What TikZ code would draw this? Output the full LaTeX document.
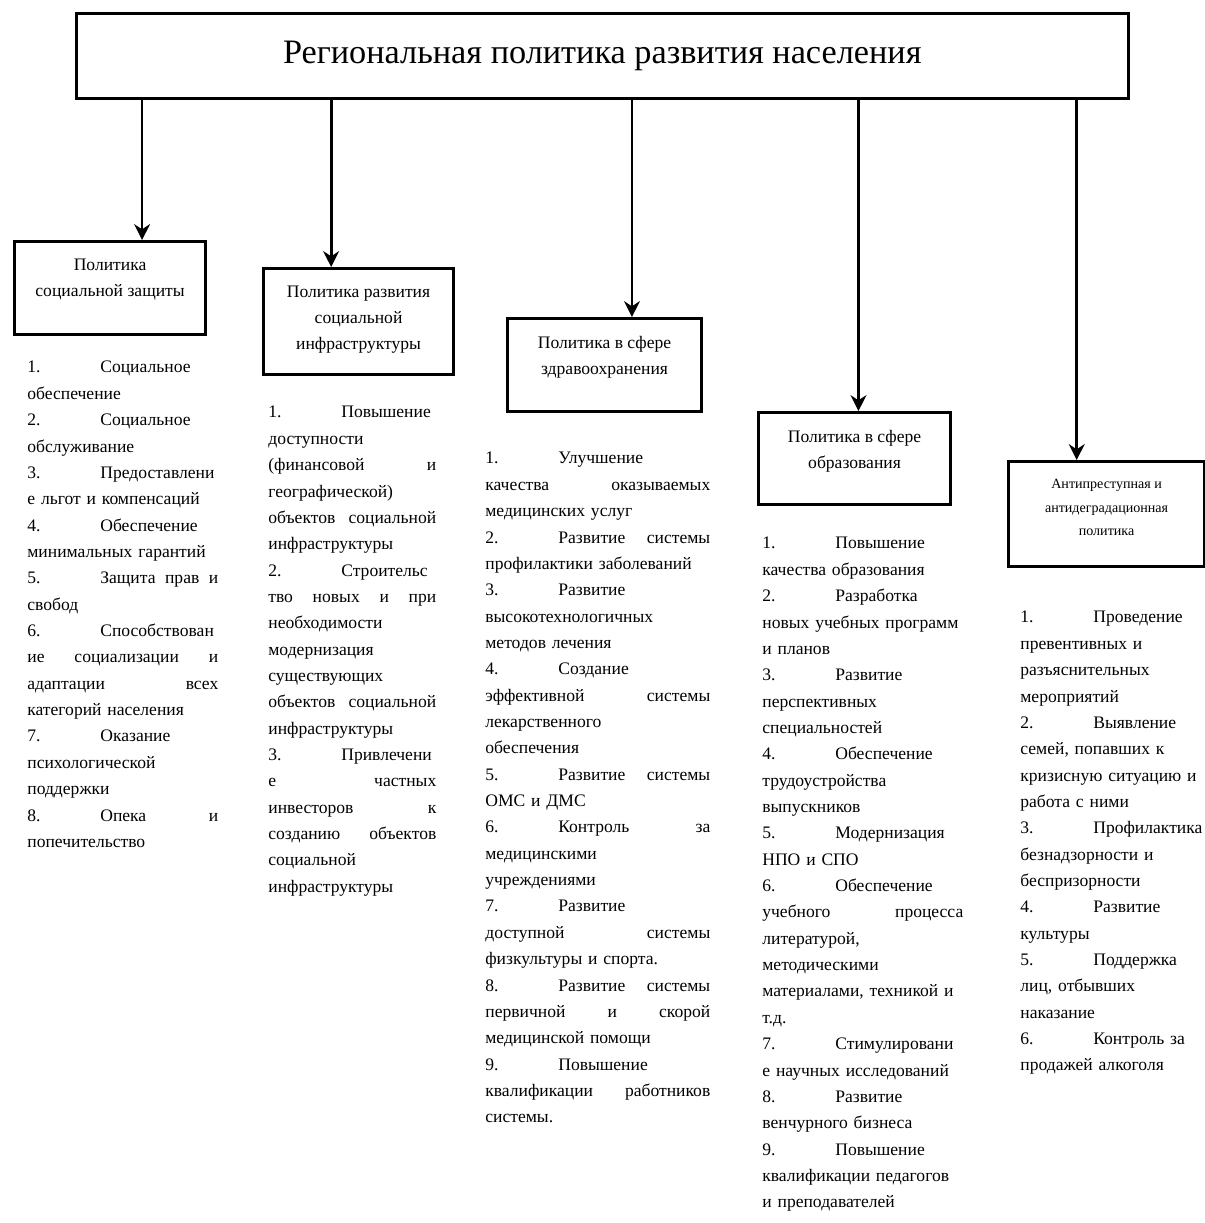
\documentclass[tikz,border=0pt]{standalone}
\usepackage{fontspec}
\setmainfont{Liberation Serif}
\usetikzlibrary{arrows.meta,calc}

\tikzset{
    polbox/.style={draw, line width=1.8pt, inner sep=0pt, anchor=north west,
        font=\fontsize{10}{14.7}\selectfont},
    plist/.style={inner sep=0pt, anchor=north west, align=left,
        font=\fontsize{10}{15}\selectfont},
    down/.style={-{Stealth[length=9pt,width=9pt]}, line width=1.6pt},
}
\newcommand\nm[1]{\makebox[1.46cm][l]{#1}}
% justified line: restore stretchable word spaces
\newcommand\jl[1]{{\spaceskip=0pt\xspaceskip=0pt\makebox[\linewidth][s]{#1}}}
\newcommand\boxtxt[3]{\parbox[c][#2][t]{#1}{\centering\vspace*{10pt}#3}}

\begin{document}
\begin{tikzpicture}[x=0.02cm, y=-0.02cm]
\useasboundingbox (0,0) rectangle (1204,1223);

\node[draw, line width=1.6pt, anchor=north west, minimum width=21.04cm, minimum height=1.7cm,
    font=\fontsize{19.5}{22}\selectfont] (title) at (75,12) {Региональная политика развития населения};

% boxes
\node[polbox] (soc) at (13,240) {\boxtxt{3.82cm}{1.86cm}{Политика\\ социальной защиты}};
\node[polbox] (infra) at (262,267) {\boxtxt{3.8cm}{2.12cm}{Политика развития\\ социальной\\ инфраструктуры}};
\node[polbox] (health) at (506,317) {\boxtxt{3.88cm}{1.86cm}{Политика в сфере\\ здравоохранения}};
\node[polbox] (edu) at (757,411) {\boxtxt{3.84cm}{1.84cm}{Политика в сфере\\ образования}};
\node[polbox, font=\fontsize{8}{13.5}\selectfont] (prev) at (1007,460)
    {\boxtxt{3.92cm}{2.1cm}{Антипреступная и\\ антидеградационная\\ политика}};

\foreach \b/\f in {soc/0.665, infra/0.358, health/0.639, edu/0.52, prev/0.35}{
    \coordinate (\b-in) at ($(\b.north west)!\f!(\b.north east)$);
    \draw[down] (title.south -| \b-in) -- (\b-in);
}

% lists
\node[plist, text width=3.82cm] (socL) at (27,361) {
\nm{1.}Социальное\\
обеспечение\\
\nm{2.}Социальное\\
обслуживание\\
\nm{3.}Предоставлени\\
е льгот и компенсаций\\
\nm{4.}Обеспечение\\
минимальных гарантий\\
\jl{\nm{5.}Защита прав и}\\
свобод\\
\nm{6.}Способствован\\
\jl{ие социализации и}\\
\jl{адаптации всех}\\
категорий населения\\
\nm{7.}Оказание\\
психологической\\
поддержки\\
\jl{\nm{8.}Опека и}\\
попечительство};

\node[plist, text width=3.36cm] (infraL) at (268,406) {
\nm{1.}Повышение\\
доступности\\
\jl{(финансовой и}\\
географической)\\
\jl{объектов социальной}\\
инфраструктуры\\
\nm{2.}Строительс\\
\jl{тво новых и при}\\
необходимости\\
модернизация\\
существующих\\
\jl{объектов социальной}\\
инфраструктуры\\
\nm{3.}Привлечени\\
\jl{е частных}\\
\jl{инвесторов к}\\
\jl{созданию объектов}\\
социальной\\
инфраструктуры};

\node[plist, text width=4.5cm] (healthL) at (485,452) {
\nm{1.}Улучшение\\
\jl{качества оказываемых}\\
медицинских услуг\\
\jl{\nm{2.}Развитие системы}\\
профилактики заболеваний\\
\nm{3.}Развитие\\
высокотехнологичных\\
методов лечения\\
\nm{4.}Создание\\
\jl{эффективной системы}\\
лекарственного\\
обеспечения\\
\jl{\nm{5.}Развитие системы}\\
ОМС и ДМС\\
\jl{\nm{6.}Контроль за}\\
медицинскими\\
учреждениями\\
\nm{7.}Развитие\\
\jl{доступной системы}\\
физкультуры и спорта.\\
\jl{\nm{8.}Развитие системы}\\
\jl{первичной и скорой}\\
медицинской помощи\\
\nm{9.}Повышение\\
\jl{квалификации работников}\\
системы.};

\node[plist, text width=4.02cm] (eduL) at (762,537) {
\nm{1.}Повышение\\
качества образования\\
\nm{2.}Разработка\\
новых учебных программ\\
и планов\\
\nm{3.}Развитие\\
перспективных\\
специальностей\\
\nm{4.}Обеспечение\\
трудоустройства\\
выпускников\\
\nm{5.}Модернизация\\
НПО и СПО\\
\nm{6.}Обеспечение\\
\jl{учебного процесса}\\
литературой,\\
методическими\\
материалами, техникой и\\
т.д.\\
\nm{7.}Стимулировани\\
е научных исследований\\
\nm{8.}Развитие\\
венчурного бизнеса\\
\nm{9.}Повышение\\
квалификации педагогов\\
и преподавателей};

\node[plist, text width=3.66cm] (prevL) at (1020,611) {
\nm{1.}Проведение\\
превентивных и\\
разъяснительных\\
мероприятий\\
\nm{2.}Выявление\\
семей, попавших к\\
кризисную ситуацию и\\
работа с ними\\
\nm{3.}Профилактика\\
безнадзорности и\\
беспризорности\\
\nm{4.}Развитие\\
культуры\\
\nm{5.}Поддержка\\
лиц, отбывших\\
наказание\\
\nm{6.}Контроль за\\
продажей алкоголя};
\end{tikzpicture}
\end{document}
